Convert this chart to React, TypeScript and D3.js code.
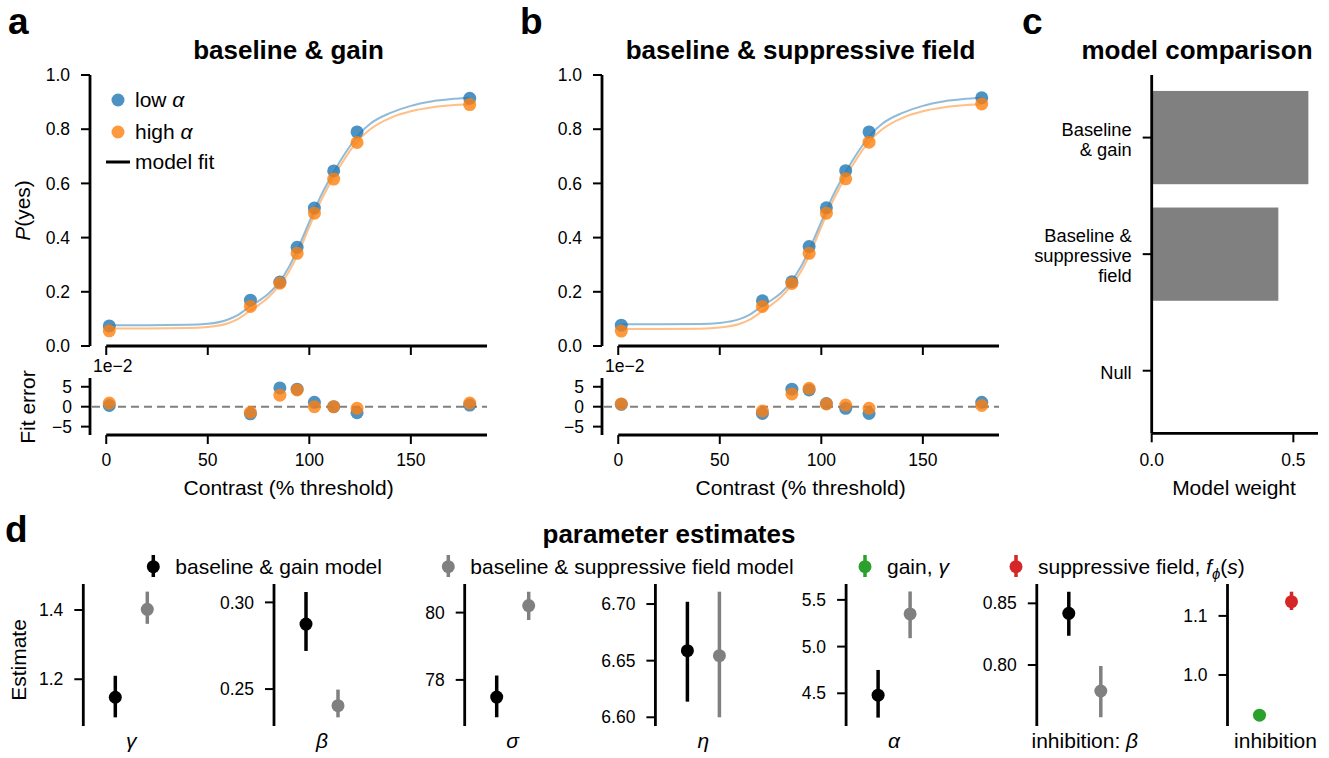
import * as d3 from "d3";

const FONT = '"Liberation Sans", Arial, Helvetica, sans-serif';
const BLUE = "#1f77b4";
const ORANGE = "#ff7f0e";
const GRAY = "#808080";

// contrast levels (% threshold)
const contrast = [1.5, 71, 85.5, 94, 102.5, 112, 123.5, 179];

// observed P(yes)
const aLow = [0.074, 0.169, 0.236, 0.364, 0.509, 0.646, 0.79, 0.914];
const aHigh = [0.056, 0.146, 0.232, 0.342, 0.49, 0.616, 0.751, 0.891];
const bLow = [0.077, 0.167, 0.237, 0.367, 0.51, 0.647, 0.79, 0.916];
const bHigh = [0.055, 0.146, 0.231, 0.342, 0.49, 0.617, 0.752, 0.893];

const curveX = [1.5, 20, 40, 50, 60, 65, 70, 75, 80, 85, 90, 95, 100, 105, 110, 115, 120, 125, 130, 140, 150, 160, 170, 179];
const aFitLow = [0.077, 0.077, 0.078, 0.082, 0.098, 0.115, 0.142, 0.166, 0.194, 0.234, 0.292, 0.37, 0.458, 0.543, 0.615, 0.68, 0.737, 0.785, 0.82, 0.86, 0.886, 0.902, 0.911, 0.916];
const aFitHigh = [0.065, 0.065, 0.066, 0.07, 0.084, 0.1, 0.126, 0.151, 0.181, 0.222, 0.275, 0.35, 0.44, 0.525, 0.598, 0.662, 0.72, 0.766, 0.8, 0.842, 0.866, 0.88, 0.888, 0.892];
const bFitLow = [0.08, 0.08, 0.081, 0.085, 0.1, 0.117, 0.143, 0.167, 0.195, 0.236, 0.293, 0.371, 0.458, 0.543, 0.615, 0.68, 0.737, 0.785, 0.82, 0.86, 0.886, 0.902, 0.911, 0.916];
const bFitHigh = [0.063, 0.063, 0.064, 0.068, 0.082, 0.098, 0.124, 0.15, 0.18, 0.222, 0.275, 0.35, 0.44, 0.525, 0.598, 0.662, 0.72, 0.766, 0.8, 0.842, 0.866, 0.88, 0.888, 0.892];

// fit error
const aErrLow = [0.003, -0.018, 0.047, 0.044, 0.011, 0.0, -0.015, 0.004];
const aErrHigh = [0.009, -0.014, 0.029, 0.042, 0.0, 0.0, -0.004, 0.009];
const bErrLow = [0.006, -0.017, 0.044, 0.042, 0.008, -0.004, -0.017, 0.011];
const bErrHigh = [0.007, -0.011, 0.032, 0.046, 0.007, 0.004, -0.004, 0.003];

const pTicks = [0, 0.2, 0.4, 0.6, 0.8, 1.0];
const contrastTicks = [0, 50, 100, 150];
const errTicks = [-0.05, 0, 0.05];

// model comparison
const models = ["Baseline\n& gain", "Baseline &\nsuppressive\nfield", "Null"];
const modelWeights = [0.553, 0.447, 0.0];
const weightTicks = [0, 0.5];

// parameter estimates (black: baseline & gain, gray: baseline & suppressive field)
const gainEst = [1.148, 0.2875, 77.49, 6.6588, 4.48, 0.8419];
const gainLo = [1.09, 0.272, 76.89, 6.6138, 4.24, 0.8237];
const gainHi = [1.21, 0.306, 78.13, 6.702, 4.75, 0.8594];
const sfEst = [1.402, 0.2404, 80.21, 6.6544, 5.35, 0.7789];
const sfLo = [1.36, 0.2337, 79.78, 6.6, 5.09, 0.7576];
const sfHi = [1.453, 0.2497, 80.62, 6.7109, 5.59, 0.7992];
// inhibition: gain γ (green), suppressive field (red)
const inhibEst = [0.932, 1.124];
const inhibLo = [0.929, 1.11];
const inhibHi = [0.935, 1.141];

const paramDomains = [[1.065, 1.475], [0.2287, 0.3106], [76.63, 80.85], [6.5923, 6.7177], [4.15, 5.67], [0.7505, 0.8657], [0.9136, 1.154]];
const paramTicks = [[1.2, 1.4], [0.25, 0.3], [78, 80], [6.6, 6.65, 6.7], [4.5, 5.0, 5.5], [0.8, 0.85], [1.0, 1.1]];
const paramFormats = [".1f", ".2f", "d", ".2f", ".1f", ".2f", ".1f"];

const SPINE = 2.8;
const TICK = 2;
const TL = 9;

const minus = (s: string) => s.replace("-", "\u2212");

function PsychPanel({ dx, letter, title, low, high, fitLow, fitHigh, errLow, errHigh, legend }: any) {
  const x = d3.scaleLinear().domain([-8, 187.5]).range([90 + dx, 487 + dx]);
  const y = d3.scaleLinear().domain([0, 1]).range([346, 75]);
  const ye = d3.scaleLinear().domain([-0.071, 0.072]).range([435, 378]);
  const left = x.range()[0];
  const right = x.range()[1];

  const line = (ys: number[]) =>
    d3.line<number>().x((d) => x(d)).y((_, i) => y(ys[i])).curve(d3.curveMonotoneX)(curveX) ?? undefined;

  return (
    <g>
      <text x={8 + dx} y={34} fontSize={37} fontWeight="bold">{letter}</text>
      <text x={(left + right) / 2} y={59} fontSize={26} fontWeight="bold" textAnchor="middle">{title}</text>

      {/* psychometric curves */}
      <line x1={left} x2={left} y1={y(1)} y2={y(0)} stroke="#000" strokeWidth={SPINE} />
      <line x1={x(0)} x2={right} y1={y(0)} y2={y(0)} stroke="#000" strokeWidth={SPINE} />
      {pTicks.map((t) => (
        <g key={t}>
          <line x1={left - TL} x2={left} y1={y(t)} y2={y(t)} stroke="#000" strokeWidth={TICK} />
          <text x={left - 20} y={y(t)} dy="0.35em" fontSize={17.5} textAnchor="end">{d3.format(".1f")(t)}</text>
        </g>
      ))}
      {contrastTicks.map((t) => (
        <line key={t} x1={x(t)} x2={x(t)} y1={y(0)} y2={y(0) + TL} stroke="#000" strokeWidth={TICK} />
      ))}
      <path d={line(fitLow)} fill="none" stroke={BLUE} strokeOpacity={0.5} strokeWidth={2} />
      <path d={line(fitHigh)} fill="none" stroke={ORANGE} strokeOpacity={0.5} strokeWidth={2} />
      {low.map((v: number, i: number) => (
        <circle key={"l" + i} cx={x(contrast[i])} cy={y(v)} r={6.5} fill={BLUE} fillOpacity={0.8} />
      ))}
      {high.map((v: number, i: number) => (
        <circle key={"h" + i} cx={x(contrast[i])} cy={y(v)} r={6.5} fill={ORANGE} fillOpacity={0.8} />
      ))}
      {legend && (
        <g fontSize={21}>
          <circle cx={118} cy={100} r={6.5} fill={BLUE} fillOpacity={0.8} />
          <text x={135} y={107}>low <tspan fontStyle="italic">α</tspan></text>
          <circle cx={118} cy={132} r={6.5} fill={ORANGE} fillOpacity={0.8} />
          <text x={135} y={139}>high <tspan fontStyle="italic">α</tspan></text>
          <line x1={106} x2={130} y1={162} y2={162} stroke="#000" strokeWidth={3} />
          <text x={135} y={169}>model fit</text>
        </g>
      )}
      {dx === 0 && (
        <text transform={`translate(30,${(y(0) + y(1)) / 2}) rotate(-90)`} fontSize={21} textAnchor="middle">
          <tspan fontStyle="italic">P</tspan>(yes)
        </text>
      )}

      {/* fit error */}
      <line x1={left} x2={left} y1={378} y2={435} stroke="#000" strokeWidth={SPINE} />
      <line x1={x(0)} x2={right} y1={435} y2={435} stroke="#000" strokeWidth={SPINE} />
      <line x1={left + 2} x2={right} y1={ye(0)} y2={ye(0)} stroke={GRAY} strokeWidth={2} strokeDasharray="8,5" />
      <text x={left + 3} y={372} fontSize={17.5}>1e−2</text>
      {errTicks.map((t) => (
        <g key={t}>
          <line x1={left - TL} x2={left} y1={ye(t)} y2={ye(t)} stroke="#000" strokeWidth={TICK} />
          <text x={left - 18} y={ye(t)} dy="0.35em" fontSize={17.5} textAnchor="end">{minus(d3.format("d")(t * 100))}</text>
        </g>
      ))}
      {contrastTicks.map((t) => (
        <g key={t}>
          <line x1={x(t)} x2={x(t)} y1={435} y2={435 + TL} stroke="#000" strokeWidth={TICK} />
          <text x={x(t)} y={466} fontSize={17.5} textAnchor="middle">{t}</text>
        </g>
      ))}
      {errLow.map((v: number, i: number) => (
        <circle key={"el" + i} cx={x(contrast[i])} cy={ye(v)} r={6.5} fill={BLUE} fillOpacity={0.8} />
      ))}
      {errHigh.map((v: number, i: number) => (
        <circle key={"eh" + i} cx={x(contrast[i])} cy={ye(v)} r={6.5} fill={ORANGE} fillOpacity={0.8} />
      ))}
      {dx === 0 && (
        <text transform={`translate(35,407) rotate(-90)`} fontSize={21} textAnchor="middle">Fit error</text>
      )}
      <text x={(x(0) + right) / 2 - 8} y={495} fontSize={21} textAnchor="middle">Contrast (% threshold)</text>
    </g>
  );
}

function ComparisonPanel() {
  const x = d3.scaleLinear().domain([0, 0.587]).range([1151.7, 1318]);
  const y = d3.scaleBand<string>().domain(models).range([79.3, 429]);
  const step = y.step();
  return (
    <g>
      <text x={1022} y={34} fontSize={37} fontWeight="bold">c</text>
      <text x={1197} y={59} fontSize={26} fontWeight="bold" textAnchor="middle">model comparison</text>
      {models.map((m, i) => (
        <rect key={m} x={x(0)} y={(y(m) ?? 0) + 0.1 * step} width={x(modelWeights[i]) - x(0)} height={0.8 * step} fill={GRAY} />
      ))}
      <line x1={x(0)} x2={x(0)} y1={75} y2={433.3} stroke="#000" strokeWidth={SPINE} />
      <line x1={x(0)} x2={1318} y1={433.3} y2={433.3} stroke="#000" strokeWidth={SPINE} />
      {models.map((m) => {
        const c = (y(m) ?? 0) + step / 2;
        const lines = m.split("\n");
        return (
          <g key={m}>
            <line x1={x(0) - TL} x2={x(0)} y1={c} y2={c} stroke="#000" strokeWidth={TICK} />
            <text x={1131.7} fontSize={18.3} textAnchor="end">
              {lines.map((l, j) => (
                <tspan key={j} x={1131.7} y={c + (j - (lines.length - 1) / 2) * 20 + 8}>{l}</tspan>
              ))}
            </text>
          </g>
        );
      })}
      {weightTicks.map((t) => (
        <g key={t}>
          <line x1={x(t)} x2={x(t)} y1={433.3} y2={433.3 + TL} stroke="#000" strokeWidth={TICK} />
          <text x={x(t)} y={466} fontSize={17.5} textAnchor="middle">{d3.format(".1f")(t)}</text>
        </g>
      ))}
      <text x={1234} y={495} fontSize={21} textAnchor="middle">Model weight</text>
    </g>
  );
}

function ErrPoint({ cx, y, est, lo, hi, color }: any) {
  return (
    <g>
      <line x1={cx} x2={cx} y1={y(lo)} y2={y(hi)} stroke={color} strokeWidth={3.5} />
      <circle cx={cx} cy={y(est)} r={6.5} fill={color} />
    </g>
  );
}

const paramLabels: any[] = [
  <tspan fontStyle="italic">γ</tspan>,
  <tspan fontStyle="italic">β</tspan>,
  <tspan fontStyle="italic">σ</tspan>,
  <tspan fontStyle="italic">η</tspan>,
  <tspan fontStyle="italic">α</tspan>,
  <>inhibition: <tspan fontStyle="italic">β</tspan></>,
  <>inhibition</>,
];

function ParamPanel() {
  const legendItems = [
    { mx: 153.3, color: "#000", label: <>baseline &amp; gain model</> },
    { mx: 448.3, color: GRAY, label: <>baseline &amp; suppressive field model</> },
    { mx: 865, color: "#2ca02c", label: <>gain, <tspan fontStyle="italic">γ</tspan></> },
    {
      mx: 1016,
      color: "#d62728",
      label: (
        <>
          suppressive field, <tspan fontStyle="italic">f</tspan>
          <tspan fontStyle="italic" fontSize={15} dy={5}>ϕ</tspan>
          <tspan dy={-5}>(</tspan>
          <tspan fontStyle="italic">s</tspan>)
        </>
      ),
    },
  ];
  return (
    <g>
      <text x={5} y={542} fontSize={37} fontWeight="bold">d</text>
      <text x={669} y={543} fontSize={26} fontWeight="bold" textAnchor="middle">parameter estimates</text>
      {legendItems.map((it, i) => (
        <g key={i}>
          <line x1={it.mx} x2={it.mx} y1={555} y2={577} stroke={it.color} strokeWidth={3.5} />
          <circle cx={it.mx} cy={566.7} r={6.5} fill={it.color} />
          <text x={it.mx + 22} y={574} fontSize={21}>{it.label}</text>
        </g>
      ))}
      <text transform="translate(26,660) rotate(-90)" fontSize={21} textAnchor="middle">Estimate</text>
      {paramDomains.map((dom, i) => {
        const sx = 83.3 + i * 190.7;
        const x = d3.scaleLinear().domain([-1, 2]).range([sx, sx + 96]);
        const y = d3.scaleLinear().domain(dom).range([726, 584]);
        const fmt = d3.format(paramFormats[i]);
        return (
          <g key={i}>
            <line x1={sx} x2={sx} y1={584} y2={726} stroke="#000" strokeWidth={SPINE} />
            {paramTicks[i].map((t) => (
              <g key={t}>
                <line x1={sx - TL} x2={sx} y1={y(t)} y2={y(t)} stroke="#000" strokeWidth={TICK} />
                <text x={sx - 20} y={y(t)} dy="0.35em" fontSize={17.5} textAnchor="end">{fmt(t)}</text>
              </g>
            ))}
            {i < 6 ? (
              <>
                <ErrPoint cx={x(0)} y={y} est={gainEst[i]} lo={gainLo[i]} hi={gainHi[i]} color="#000" />
                <ErrPoint cx={x(1)} y={y} est={sfEst[i]} lo={sfLo[i]} hi={sfHi[i]} color={GRAY} />
              </>
            ) : (
              <>
                <ErrPoint cx={x(0)} y={y} est={inhibEst[0]} lo={inhibLo[0]} hi={inhibHi[0]} color="#2ca02c" />
                <ErrPoint cx={x(1)} y={y} est={inhibEst[1]} lo={inhibLo[1]} hi={inhibHi[1]} color="#d62728" />
              </>
            )}
            <text x={x(0.5)} y={748} fontSize={21} textAnchor="middle">{paramLabels[i]}</text>
          </g>
        );
      })}
    </g>
  );
}

export default function App() {
  return (
    <div style={{ position: "fixed", left: 0, top: 0, background: "#fff" }}>
      <svg width={1329} height={758} fontFamily={FONT} style={{ display: "block" }}>
        <rect width={1329} height={758} fill="#fff" />
        <PsychPanel dx={0} letter="a" title="baseline & gain" low={aLow} high={aHigh}
          fitLow={aFitLow} fitHigh={aFitHigh} errLow={aErrLow} errHigh={aErrHigh} legend />
        <PsychPanel dx={512} letter="b" title="baseline & suppressive field" low={bLow} high={bHigh}
          fitLow={bFitLow} fitHigh={bFitHigh} errLow={bErrLow} errHigh={bErrHigh} legend={false} />
        <ComparisonPanel />
        <ParamPanel />
      </svg>
    </div>
  );
}
